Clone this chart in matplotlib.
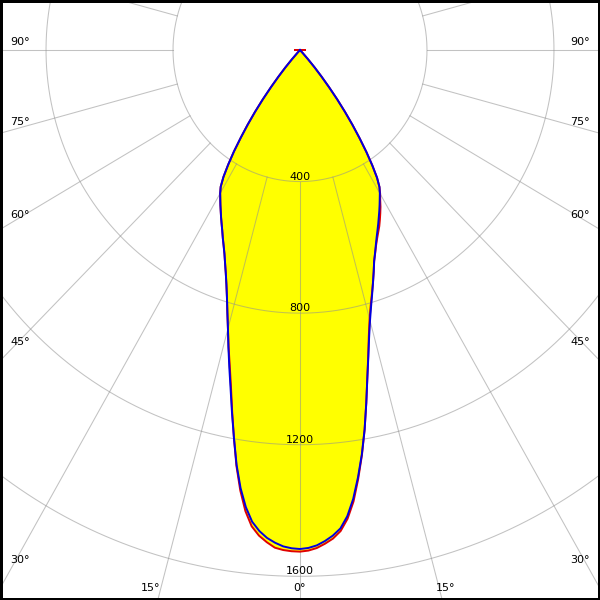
import numpy as np
import matplotlib
matplotlib.use("Agg")
import matplotlib.pyplot as plt

# polar angles (deg, 0 = straight down) and luminous intensities (cd)
gamma = list(range(0, 46)) + [60, 75, 89, 90, 91, 120, 150, 180]

blue_left = [1517, 1515, 1510, 1500, 1487, 1468, 1442, 1400, 1345, 1277,
             1198, 1123, 1052, 990, 932, 877, 830, 787, 750, 718,
             690, 664, 642, 622, 602, 584, 567, 550, 534, 518,
             503, 485, 455, 415, 372, 325, 280, 235, 190, 145,
             105, 70, 38, 12, 0, 0,
             0, 0, 0, 0, 0, 0, 0, 0]
blue_right = [1517, 1514, 1507, 1495, 1480, 1460, 1425, 1375, 1312, 1245,
              1172, 1094, 1020, 957, 900, 852, 812, 777, 744, 713,
              683, 660, 638, 618, 600, 583, 566, 550, 534, 518,
              503, 486, 458, 418, 374, 327, 281, 235, 190, 145,
              105, 70, 38, 12, 0, 0,
              0, 0, 0, 0, 0, 0, 0, 0]
red_left = [1525, 1524, 1521, 1515, 1500, 1482, 1456, 1412, 1352, 1280,
            1198, 1120, 1046, 984, 930, 877, 830, 787, 750, 718,
            690, 664, 642, 622, 602, 584, 567, 550, 534, 518,
            503, 485, 455, 415, 372, 325, 280, 235, 190, 145,
            105, 70, 38, 12, 0, 0,
            0, 0, 0, 16, 0, 0, 0, 0]
red_right = [1525, 1522, 1515, 1503, 1489, 1468, 1433, 1383, 1317, 1247,
             1172, 1094, 1020, 955, 896, 847, 808, 775, 744, 713,
             683, 661, 640, 622, 606, 591, 574, 557, 540, 521,
             505, 486, 458, 418, 374, 327, 281, 235, 190, 145,
             105, 70, 38, 12, 0, 0,
             0, 0, 0, 16, 0, 0, 0, 0]

rings = [400, 800, 1200, 1600, 2000]
ring_labels = ["400", "800", "1200", "1600"]
spoke_angles = np.arange(0, 360, 15)

side_labels = ["90°", "75°", "60°", "45°", "30°"]
side_label_y = [42, 122, 215, 342, 560]          # pixel rows
bottom_labels = ["15°", "0°", "15°"]
bottom_label_x = [151, 300, 446]


def curve_xy(left, right):
    g = np.radians(gamma)
    l = np.array(left, dtype=float)
    r = np.array(right, dtype=float)
    xl, yl = -l * np.sin(g), -l * np.cos(g)
    xr, yr = r * np.sin(g), -r * np.cos(g)
    x = np.concatenate([xl[::-1], xr])
    y = np.concatenate([yl[::-1], yr])
    return x, y


fig = plt.figure(figsize=(6, 6), dpi=100)
ax = fig.add_axes([0, 0, 1, 1])
ax.set_xlim(-945, 945)
ax.set_ylim(-1672, 152)
ax.set_xticks([])
ax.set_yticks([])
for s in ax.spines.values():
    s.set_linewidth(3.6)
    s.set_color("black")

rx, ry = curve_xy(red_left, red_right)
bx, by = curve_xy(blue_left, blue_right)
ax.fill(rx, ry, color="#ffff00", lw=0, zorder=1)
ax.fill(bx, by, color="#ffff00", lw=0, zorder=1)

# grid: rings and spokes (spokes start at the first ring)
t = np.linspace(0, 2 * np.pi, 721)
for r in rings:
    ax.plot(r * np.sin(t), r * np.cos(t), color="#909090", alpha=0.55, lw=0.75, zorder=2)
for a in spoke_angles:
    ar = np.radians(a)
    ax.plot([400 * np.sin(ar), 4000 * np.sin(ar)], [-400 * np.cos(ar), -4000 * np.cos(ar)],
            color="#909090", alpha=0.55, lw=0.75, zorder=2)

ax.plot(rx, ry, color="#e00000", lw=1.4, zorder=3)
ax.plot(bx, by, color="#0000e0", lw=1.4, zorder=4)

for r, lab in zip(rings, ring_labels):
    ax.text(0, -r + 15, lab, ha="center", va="center", fontsize=8, zorder=5)

for lab, yp in zip(side_labels, side_label_y):
    fig.text(10 / 600, 1 - yp / 600, lab, ha="left", va="center", fontsize=8)
    fig.text(590 / 600, 1 - yp / 600, lab, ha="right", va="center", fontsize=8)
for lab, xp in zip(bottom_labels, bottom_label_x):
    fig.text(xp / 600, 1 - 588 / 600, lab, ha="center", va="center", fontsize=8)

fig.savefig("out.png", dpi=100)
